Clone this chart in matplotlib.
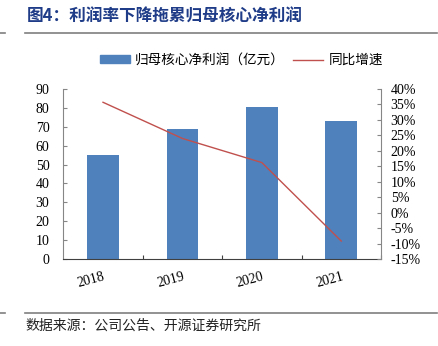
import matplotlib.pyplot as plt
from matplotlib.lines import Line2D
from matplotlib.patches import Patch
import numpy as np

plt.rcParams['font.family'] = ['Noto Sans CJK SC', 'DejaVu Sans']

years = ['2018', '2019', '2020', '2021']
profit = [55.2, 69.0, 80.3, 72.9]          # 归母核心净利润（亿元）
growth = [35.7, 24.0, 16.2, -9.2]          # 同比增速 %

fig = plt.figure(figsize=(4.39, 3.46), dpi=100)
ax = fig.add_axes([0.1442, 0.2514, 0.7236, 0.4914])
x = np.arange(len(years))
ax.bar(x, profit, width=0.4, color='#4F81BD')
ax.set_xlim(-0.5, 3.5)
ax.set_ylim(0, 90)
ax.set_yticks(range(0, 91, 10))

ax2 = ax.twinx()
ax2.plot(x, growth, color='#C0504D', lw=1)
ax2.set_ylim(-15, 40)
ax2.set_yticks(range(-15, 41, 5))
ax2.set_yticklabels([f'{v}%' for v in range(-15, 41, 5)])

serif = 'Liberation Serif'
for a in (ax, ax2):
    a.spines['top'].set_visible(False)
    for s in ('left', 'right'):
        a.spines[s].set_color('#868686')
    a.spines['bottom'].set_color('#404040')
ax.spines['right'].set_visible(False)
ax2.spines['left'].set_visible(False)
ax2.spines['bottom'].set_visible(False)

ax.tick_params(axis='y', direction='in', length=3, color='#868686', pad=10, labelsize=10)
ax2.tick_params(axis='y', direction='in', length=3, color='#868686', pad=7, labelsize=10)
for lab in ax.get_yticklabels() + ax2.get_yticklabels():
    lab.set_fontfamily(serif)

ax.set_xticks(x + 0.5, minor=False)
ax.set_xticklabels([])
ax.tick_params(axis='x', direction='in', length=3, color='#404040')
ax.set_xticks(x, minor=True)
ax.set_xticklabels(years, minor=True, rotation=15, ha='right', rotation_mode='anchor',
                   fontfamily=serif, fontsize=10)
ax.tick_params(axis='x', which='minor', length=0, pad=8)

handles = [Patch(color='#4F81BD'), Line2D([], [], color='#C0504D', lw=1)]
fig.legend(handles, ['归母核心净利润（亿元）', '同比增速'], loc='center', ncol=2,
           bbox_to_anchor=(0.55, 0.827), frameon=False, fontsize=9.8,
           handlelength=2.2, handleheight=0.45, columnspacing=0.6, handletextpad=0.4)

fig.text(0.062, 0.952, '图4：利润率下降拖累归母核心净利润', color='#1F3C88',
         fontsize=12, fontweight='bold', va='center')
fig.add_artist(Line2D([0.057, 0.995], [0.905, 0.905], color='#7F7F7F', lw=1.2))
fig.add_artist(Line2D([0.0, 0.012], [0.905, 0.905], color='#7F7F7F', lw=1.2))
fig.add_artist(Line2D([0.057, 0.995], [0.095, 0.095], color='#7F7F7F', lw=1.2))
fig.add_artist(Line2D([0.0, 0.012], [0.095, 0.095], color='#7F7F7F', lw=1.2))
fig.text(0.057, 0.058, '数据来源：公司公告、开源证券研究所', color='#222222',
         fontsize=10, va='center')

fig.savefig('out.png', dpi=100)
